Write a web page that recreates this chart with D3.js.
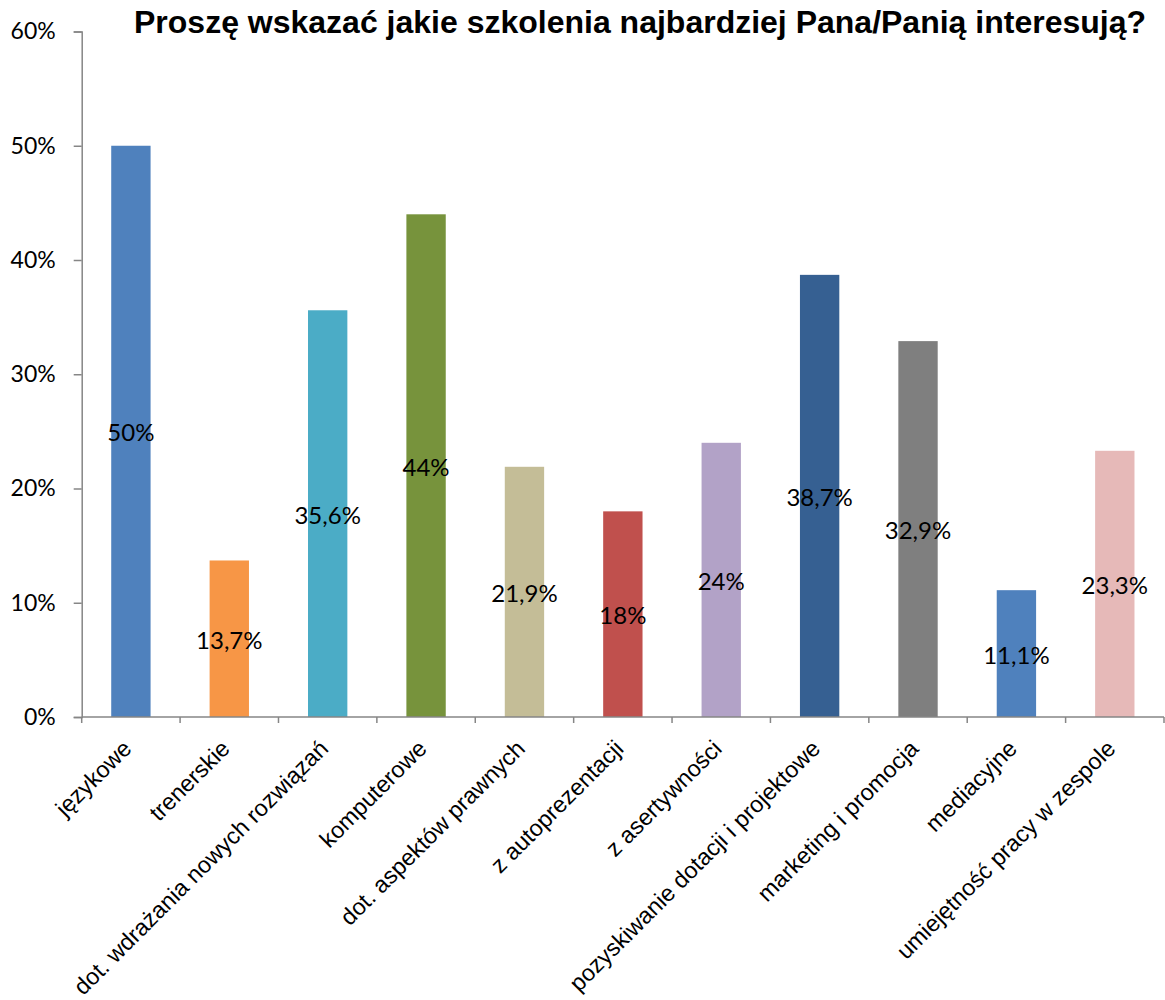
<!DOCTYPE html>
<html><head><meta charset="utf-8">
<script src="https://cdn.jsdelivr.net/npm/d3@7"></script>
<style>body{margin:0;background:#fff}svg{display:block}</style>
</head><body>
<script>
const title = "Proszę wskazać jakie szkolenia najbardziej Pana/Panią interesują?";
const categories = ["językowe","trenerskie","dot. wdrażania nowych rozwiązań","komputerowe","dot. aspektów prawnych","z autoprezentacji","z asertywności","pozyskiwanie dotacji i projektowe","marketing i promocja","mediacyjne","umiejętność pracy w zespole"];
const values = [50, 13.7, 35.6, 44, 21.9, 18, 24, 38.7, 32.9, 11.1, 23.3];
const labels = ["50%","13,7%","35,6%","44%","21,9%","18%","24%","38,7%","32,9%","11,1%","23,3%"];
const colors = ["#4F81BD","#F79646","#4BACC6","#77933C","#C4BD97","#C0504D","#B2A2C7","#366092","#7F7F7F","#4F81BD","#E6B9B8"];
const yTicks = [0,10,20,30,40,50,60];

const W = 1165, H = 1000;
const svg = d3.select("body").append("svg").attr("width", W).attr("height", H);
const x = d3.scaleBand().domain(categories).range([81.7, 1164]).paddingInner(0.6).paddingOuter(0.3);
const y = d3.scaleLinear().domain([0, 60]).range([717, 31.5]);
const axisColor = "#868686";

svg.append("text").attr("x", 640).attr("y", 33).attr("text-anchor", "middle")
  .attr("font-family", "Liberation Sans, Arial, sans-serif").attr("font-weight", "bold")
  .attr("font-size", 32).attr("fill", "#000").text(title);

// Y axis
const yAxis = svg.append("g").attr("transform", "translate(81.7,0)")
  .call(d3.axisLeft(y).tickValues(yTicks).tickSize(8).tickPadding(18).tickFormat(d => d + "%"));
yAxis.select(".domain").attr("stroke", axisColor).attr("stroke-width", 1.5);
yAxis.selectAll(".tick line").attr("stroke", axisColor).attr("stroke-width", 1.5);
yAxis.selectAll(".tick text").attr("font-family", "Lato, sans-serif").attr("font-size", 23).attr("fill", "#000");

// bars
svg.append("g").selectAll("rect").data(categories).join("rect")
  .attr("x", (d) => x(d)).attr("width", x.bandwidth())
  .attr("y", (d, i) => y(values[i])).attr("height", (d, i) => y(0) - y(values[i]))
  .attr("fill", (d, i) => colors[i]);

// X axis
const bounds = d3.range(categories.length + 1).map(i => 81.7 + i * (1164 - 81.7) / categories.length);
const xg = svg.append("g");
xg.append("line").attr("x1", 81.7).attr("x2", 1164).attr("y1", y(0)).attr("y2", y(0))
  .attr("stroke", axisColor).attr("stroke-width", 1.5);
xg.selectAll("line.t").data(bounds).join("line").attr("class", "t")
  .attr("x1", d => d).attr("x2", d => d).attr("y1", y(0)).attr("y2", y(0) + 6)
  .attr("stroke", axisColor).attr("stroke-width", 1.5);
xg.selectAll("text").data(categories).join("text")
  .attr("transform", d => `translate(${x(d) + x.bandwidth() / 2 + 2},${y(0) + 33}) rotate(-45)`)
  .attr("text-anchor", "end")
  .attr("font-family", "Liberation Sans, Arial, sans-serif").attr("font-size", 23.3).attr("fill", "#000")
  .text(d => d);

// data labels
svg.append("g").selectAll("text").data(categories).join("text")
  .attr("x", d => x(d) + x.bandwidth() / 2)
  .attr("y", (d, i) => y(values[i] / 2))
  .attr("dy", "0.42em").attr("text-anchor", "middle")
  .attr("font-family", "Lato, sans-serif").attr("font-size", 24).attr("fill", "#000")
  .text((d, i) => labels[i]);
</script>
</body></html>
